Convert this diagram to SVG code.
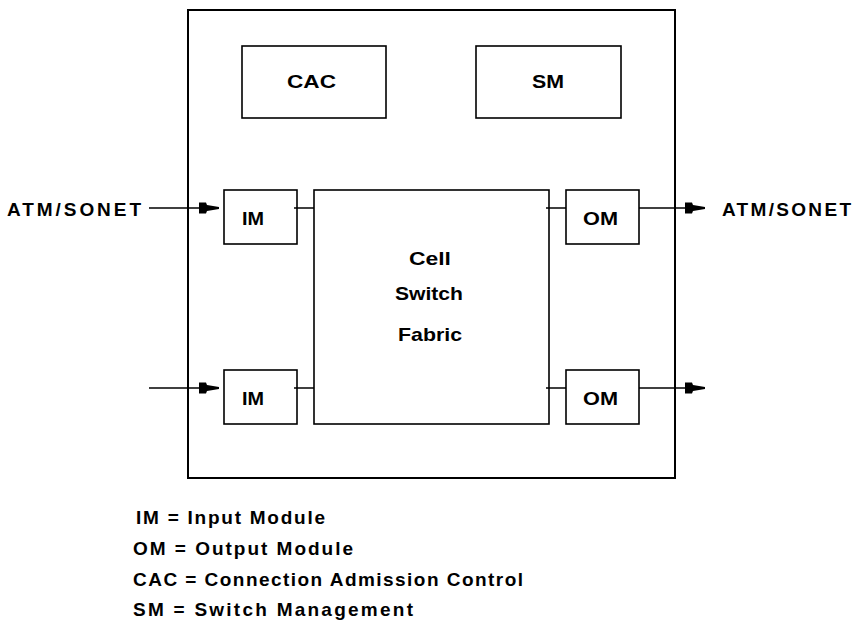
<svg xmlns="http://www.w3.org/2000/svg" width="854" height="625" viewBox="0 0 854 625">
<style>
.box{fill:#fff;stroke:#000;stroke-width:1.6}
.outer{fill:none;stroke:#000;stroke-width:2}
.ln{fill:none;stroke:#000;stroke-width:1.5}
text{font-family:"Liberation Sans",Arial,sans-serif;font-weight:bold;font-size:19px;fill:#000}
</style>
<defs>
<marker id="ah" markerUnits="userSpaceOnUse" markerWidth="22" markerHeight="14" refX="20" refY="7" orient="auto">
<path d="M0,1.5 L7,1.5 L8,4 L20,6 L20,8 L8,10 L7,12.5 L0,12.5 Z" fill="#000"/>
</marker>
</defs>
<rect width="854" height="625" fill="#fff"/>
<g id="switch">
<rect class="outer" x="188" y="10" width="487" height="468"/>
</g>
<g id="cac"><rect class="box" x="242" y="46" width="144" height="72"/><text x="287" y="88" textLength="49" lengthAdjust="spacingAndGlyphs">CAC</text></g>
<g id="sm"><rect class="box" x="476" y="46" width="145" height="72"/><text x="532" y="88" textLength="32" lengthAdjust="spacingAndGlyphs">SM</text></g>
<g id="fabric"><rect class="box" x="314" y="190" width="235" height="234"/>
<text x="409" y="265" textLength="42" lengthAdjust="spacingAndGlyphs">Cell</text>
<text x="395" y="300" textLength="68" lengthAdjust="spacingAndGlyphs">Switch</text>
<text x="398" y="341" textLength="64" lengthAdjust="spacingAndGlyphs">Fabric</text></g>
<g id="im1"><rect class="box" x="224" y="190" width="73" height="54"/><text x="242" y="225" textLength="22" lengthAdjust="spacingAndGlyphs">IM</text></g>
<g id="im2"><rect class="box" x="224" y="370" width="73" height="54"/><text x="242" y="405" textLength="22" lengthAdjust="spacingAndGlyphs">IM</text></g>
<g id="om1"><rect class="box" x="566" y="190" width="73" height="54"/><text x="583" y="225" textLength="35" lengthAdjust="spacingAndGlyphs">OM</text></g>
<g id="om2"><rect class="box" x="566" y="370" width="73" height="54"/><text x="583" y="405" textLength="35" lengthAdjust="spacingAndGlyphs">OM</text></g>
<g id="connectors">
<line class="ln" x1="149" y1="208" x2="219" y2="208" marker-end="url(#ah)"/>
<line class="ln" x1="149" y1="388" x2="219" y2="388" marker-end="url(#ah)"/>
<line class="ln" x1="294" y1="208" x2="314" y2="208"/>
<line class="ln" x1="294" y1="388" x2="314" y2="388"/>
<line class="ln" x1="546" y1="208" x2="566" y2="208"/>
<line class="ln" x1="546" y1="388" x2="566" y2="388"/>
<line class="ln" x1="639" y1="208" x2="705" y2="208" marker-end="url(#ah)"/>
<line class="ln" x1="639" y1="388" x2="705" y2="388" marker-end="url(#ah)"/>
</g>
<g id="labels">
<text x="7" y="216" textLength="134" lengthAdjust="spacing">ATM/SONET</text>
<text x="722" y="216" textLength="129" lengthAdjust="spacing">ATM/SONET</text>
</g>
<g id="legend">
<text x="136" y="524" textLength="189" lengthAdjust="spacing">IM = Input Module</text>
<text x="133" y="555" textLength="220" lengthAdjust="spacing">OM = Output Module</text>
<text x="133" y="586" textLength="390" lengthAdjust="spacing">CAC = Connection Admission Control</text>
<text x="133" y="616" textLength="280" lengthAdjust="spacing">SM = Switch Management</text>
</g>
</svg>
